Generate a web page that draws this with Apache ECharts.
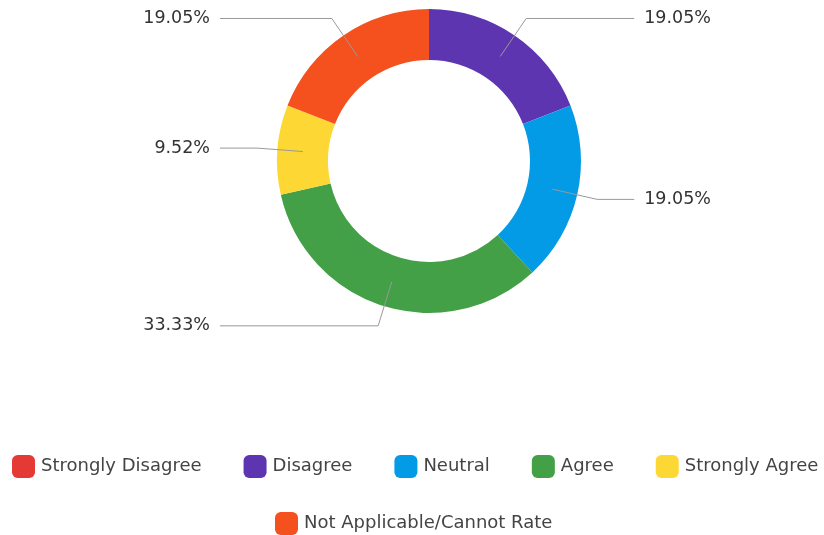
<!DOCTYPE html>
<html>
<head>
<meta charset="utf-8">
<script src="https://cdn.jsdelivr.net/npm/echarts@6/dist/echarts.min.js"></script>
<style>
  html, body { margin: 0; padding: 0; background: #fff; }
  #app { width: 824px; height: 535px; }
</style>
</head>
<body>
<div id="app"></div>
<script>
const categories = ['Strongly Disagree', 'Disagree', 'Neutral', 'Agree', 'Strongly Agree', 'Not Applicable/Cannot Rate']
const counts = [0, 4, 4, 7, 2, 4]
const colors = ['#e53935', '#5e35b1', '#039be5', '#43a047', '#fdd835', '#f4511e']

const font = '"DejaVu Sans", sans-serif'
const echart = echarts.init(document.getElementById('app'))

const ringData = categories.map((name, i) => ({
  name,
  value: counts[i],
  itemStyle: { color: colors[i] }
}))

// invisible pie sitting at mid-ring radius, only there to carry the labels
const labelData = categories.map((name, i) => ({
  name,
  value: counts[i],
  itemStyle: { color: 'rgba(0,0,0,0)' },
  label: { show: counts[i] > 0 },
  labelLine: { show: counts[i] > 0 }
}))

const legendBase = {
  icon: 'roundRect',
  itemWidth: 23,
  itemHeight: 23,
  itemGap: 42,
  padding: 0,
  selectedMode: false,
  textStyle: {
    fontFamily: font,
    fontSize: 18,
    color: '#444',
    padding: [0, 0, 0, 1]
  }
}

echart.setOption({
  animation: false,
  legend: [
    Object.assign({}, legendBase, { data: categories.slice(0, 5), left: 12, top: 455 }),
    Object.assign({}, legendBase, { data: categories.slice(5), left: 275, top: 512 })
  ],
  series: [
    {
      type: 'pie',
      center: [429, 161],
      radius: [101, 152],
      startAngle: 90,
      data: ringData,
      label: { show: false },
      labelLine: { show: false },
      emphasis: { scale: false },
      silent: true
    },
    {
      type: 'pie',
      z: 5,
      center: [429, 161],
      radius: [0, 126.5],
      startAngle: 90,
      data: labelData,
      silent: true,
      label: {
        formatter: '{d}%',
        fontFamily: font,
        fontSize: 17.5,
        color: '#333',
        alignTo: 'labelLine',
        edgeDistance: 5,
        bleedMargin: 5,
        distanceToLabelLine: 10
      },
      labelLine: {
        length: 46,
        length2: 37,
        lineStyle: { color: '#999', width: 1 }
      }
    }
  ]
})
</script>
</body>
</html>
